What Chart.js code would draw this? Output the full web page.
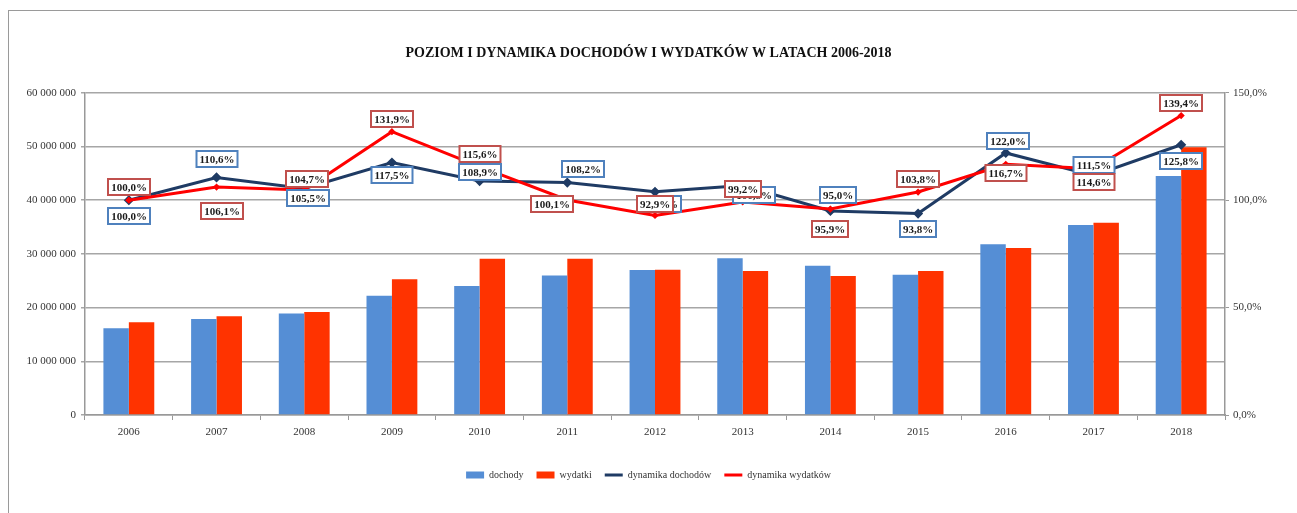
<!DOCTYPE html>
<html>
<head>
<meta charset="utf-8">
<title>Poziom i dynamika dochodów i wydatków</title>
<script src="https://cdn.jsdelivr.net/npm/chart.js@4.4.1/dist/chart.umd.min.js"></script>
<style>
  html, body { margin: 0; padding: 0; background: #fff; }
  #wrap { position: relative; width: 1297px; height: 513px; overflow: hidden; }
  #frame { position: absolute; left: 8px; top: 10px; width: 1400px; height: 600px;
           border-top: 1px solid #9a9a9a; border-left: 1px solid #9a9a9a; }
  #chart { position: absolute; left: 0; top: 0; }
</style>
</head>
<body>
<div id="wrap">
  <div id="frame"></div>
  <canvas id="chart" width="1297" height="513"></canvas>
</div>
<script>
// ----------------------------Data----------------------------

const years = ['2006', '2007', '2008', '2009', '2010', '2011', '2012',
               '2013', '2014', '2015', '2016', '2017', '2018'];

const dochody = [16150000, 17900000, 18900000, 22200000, 24000000, 26000000, 27000000,
                 29200000, 27800000, 26100000, 31800000, 35400000, 44500000];
const wydatki = [17250000, 18400000, 19200000, 25300000, 29100000, 29100000, 27050000,
                 26800000, 25900000, 26800000, 31100000, 35800000, 49850000];

// dynamika w % (rok bazowy 2006 = 100)
const dynamikaDochodow = [100.0, 110.6, 105.5, 117.5, 108.9, 108.2, 103.9,
                          106.8, 95.0, 93.8, 122.0, 111.5, 125.8];
const dynamikaWydatkow = [100.0, 106.1, 104.7, 131.9, 115.6, 100.1, 92.9,
                          99.2, 95.9, 103.8, 116.7, 114.6, 139.4];

// where each value box sits relative to its point [dx, dy] in px
const dochLabelOffsets = [[0, 16], [0, -18], [4, 10], [0, 12], [0, -9], [16, -14], [5, 12],
                          [11, 9], [8, -16], [0, 15], [2, -12], [1, -10], [0, 16]];
const wydLabelOffsets = [[0, -13], [5, 24], [3, -11], [0, -13], [0, -13], [-15, 4], [0, -11],
                         [0, -13], [0, 20], [0, -13], [0, 9], [1, 13], [0, -13]];

const FONT = '"Liberation Serif", "Times New Roman", serif';

function pct(v) {
    return v.toFixed(1).replace('.', ',') + '%';
}

function spaced(v) {
    return String(v).replace(/\B(?=(\d{3})+(?!\d))/g, ' ');
}

// ----------------------------Value boxes----------------------------

const valueBoxes = {
    id: 'valueBoxes',
    afterDatasetsDraw(chart) {
        const ctx = chart.ctx;
        ctx.save();
        ctx.font = 'bold 11px ' + FONT;
        ctx.textAlign = 'center';
        ctx.textBaseline = 'middle';
        const sets = [
            [2, dochLabelOffsets, '#4F81BD'],
            [3, wydLabelOffsets, '#C0504D']
        ];
        sets.forEach(([idx, offsets, color]) => {
            const meta = chart.getDatasetMeta(idx);
            const values = chart.data.datasets[idx].data;
            meta.data.forEach((pt, i) => {
                const txt = pct(values[i]);
                const w = Math.round(ctx.measureText(txt).width + 6);
                const h = 16;
                const cx = Math.round(pt.x + offsets[i][0]);
                const cy = Math.round(pt.y + offsets[i][1]);
                const x0 = cx - w / 2, y0 = cy - h / 2;
                ctx.fillStyle = '#fff';
                ctx.fillRect(x0, y0, w, h);
                ctx.lineWidth = 2;
                ctx.strokeStyle = color;
                ctx.strokeRect(x0, y0, w, h);
                ctx.fillStyle = '#1a1a1a';
                ctx.fillText(txt, cx, cy + 1);
            });
        });
        ctx.restore();
    }
};

// ----------------------------Chart----------------------------

document.addEventListener('DOMContentLoaded', function() {
    const ctx = document.getElementById('chart');

    new Chart(ctx, {
        type: 'bar',
        data: {
            labels: years,
            datasets: [
                {
                    type: 'bar',
                    label: 'dochody',
                    data: dochody,
                    backgroundColor: '#558ED5',
                    borderWidth: 0,
                    yAxisID: 'y',
                    order: 2,
                    categoryPercentage: 0.58,
                    barPercentage: 1.0
                },
                {
                    type: 'bar',
                    label: 'wydatki',
                    data: wydatki,
                    backgroundColor: '#FF3300',
                    borderWidth: 0,
                    yAxisID: 'y',
                    order: 2,
                    categoryPercentage: 0.58,
                    barPercentage: 1.0
                },
                {
                    type: 'line',
                    label: 'dynamika dochodów',
                    data: dynamikaDochodow,
                    borderColor: '#1F3B64',
                    backgroundColor: '#1F3B64',
                    borderWidth: 3,
                    pointStyle: 'rectRot',
                    pointRadius: 3,
                    tension: 0,
                    yAxisID: 'y1',
                    order: 1
                },
                {
                    type: 'line',
                    label: 'dynamika wydatków',
                    data: dynamikaWydatkow,
                    borderColor: '#FF0000',
                    backgroundColor: '#FF0000',
                    borderWidth: 3,
                    pointStyle: 'rectRot',
                    pointRadius: 1.5,
                    tension: 0,
                    yAxisID: 'y1',
                    order: 0
                }
            ]
        },
        options: {
            responsive: false,
            animation: false,
            layout: { padding: { left: 0, right: 0, top: 0, bottom: 23 } },
            plugins: {
                title: {
                    display: true,
                    text: 'POZIOM I DYNAMIKA DOCHODÓW I WYDATKÓW W LATACH 2006-2018',
                    color: '#111',
                    font: { family: FONT, size: 14, weight: 'bold' },
                    padding: { top: 45, bottom: 31 }
                },
                legend: {
                    position: 'bottom',
                    labels: {
                        color: '#333',
                        font: { family: FONT, size: 10 },
                        usePointStyle: true,
                        pointStyleWidth: 18,
                        boxHeight: 7,
                        padding: 13,
                        sort: (a, b) => a.datasetIndex - b.datasetIndex,
                        generateLabels(chart) {
                            const items = Chart.defaults.plugins.legend.labels.generateLabels(chart);
                            items.forEach(it => {
                                it.pointStyle = it.datasetIndex < 2 ? 'rect' : 'line';
                                if (it.datasetIndex < 2) it.lineWidth = 0;
                            });
                            return items;
                        }
                    }
                },
                tooltip: { enabled: false }
            },
            scales: {
                x: {
                    offset: true,
                    grid: {
                        display: true,
                        drawOnChartArea: false,
                        offset: true,
                        tickLength: 5,
                        color: '#999'
                    },
                    border: { color: '#999', width: 1.5 },
                    ticks: {
                        color: '#333',
                        padding: 6,
                        font: { family: FONT, size: 11 }
                    },
                    afterFit(scale) { scale.height = 42; }
                },
                y: {
                    position: 'left',
                    min: 0,
                    max: 60000000,
                    ticks: {
                        stepSize: 10000000,
                        color: '#333',
                        padding: 5,
                        font: { family: FONT, size: 11 },
                        callback: v => spaced(v)
                    },
                    grid: { color: '#a6a6a6', lineWidth: 1.5, tickLength: 4 },
                    border: { color: '#999', width: 1.5 },
                    afterFit(scale) { scale.width = 85; }
                },
                y1: {
                    position: 'right',
                    min: 0,
                    max: 150,
                    ticks: {
                        stepSize: 50,
                        color: '#333',
                        padding: 4,
                        font: { family: FONT, size: 11 },
                        callback: v => pct(v)
                    },
                    grid: { drawOnChartArea: false, color: '#999', tickLength: 4 },
                    border: { color: '#999', width: 1.5 },
                    afterFit(scale) { scale.width = 72; }
                }
            }
        },
        plugins: [valueBoxes]
    });
});
</script>
</body>
</html>
